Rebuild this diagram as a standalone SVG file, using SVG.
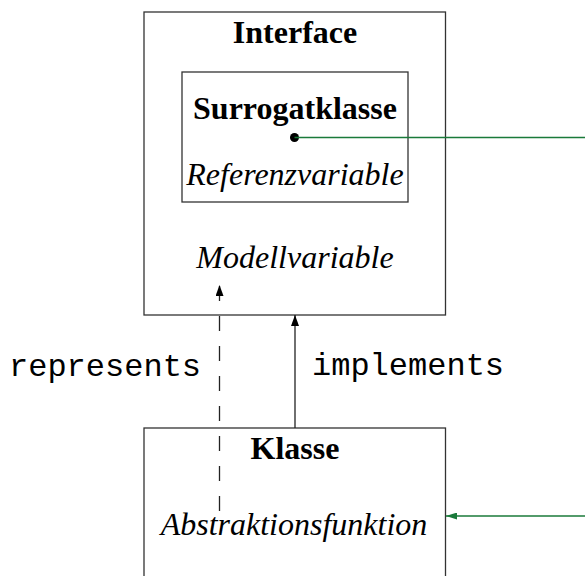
<svg xmlns="http://www.w3.org/2000/svg" width="585" height="576" viewBox="0 0 585 576">
<defs>
<style>
.box{fill:none;stroke:#333;stroke-width:1.3}
.b{font-family:"Liberation Serif",serif;font-weight:bold;font-size:32px;text-anchor:middle;fill:#000}
.i{font-family:"Liberation Serif",serif;font-style:italic;font-size:32px;text-anchor:middle;fill:#000}
.m{font-family:"Liberation Mono",monospace;font-size:32px;fill:#000}
.blk{stroke:#222;stroke-width:1.3;fill:none}
.grn{stroke:#1a7a3a;stroke-width:1.3;fill:none}
</style>
<marker id="ah" markerWidth="11" markerHeight="8" refX="11" refY="4" orient="auto" markerUnits="userSpaceOnUse"><path d="M0,0 L11,4 L0,8 Z" fill="#000"/></marker>
<marker id="ag" markerWidth="11" markerHeight="7" refX="11" refY="3.5" orient="auto" markerUnits="userSpaceOnUse"><path d="M0,0 L11,3.5 L0,7 Z" fill="#1a7a3a"/></marker>
</defs>
<g id="interface">
<rect class="box" x="144" y="12" width="301.5" height="303"/>
<text class="b" x="295" y="43">Interface</text>
<text class="i" x="295" y="268">Modellvariable</text>
</g>
<g id="surrogatklasse">
<rect class="box" x="182" y="72" width="226" height="130"/>
<text class="b" x="295" y="119">Surrogatklasse</text>
<text class="i" x="295" y="185">Referenzvariable</text>
</g>
<g id="klasse">
<rect class="box" x="144" y="428" width="301.5" height="160"/>
<text class="b" x="295" y="459">Klasse</text>
<text class="i" x="294" y="535">Abstraktionsfunktion</text>
</g>
<g id="connectors">
<line class="blk" x1="219.5" y1="511" x2="219.5" y2="285" stroke-dasharray="15,15" marker-end="url(#ah)"/>
<line class="blk" x1="295" y1="428" x2="295" y2="315" marker-end="url(#ah)"/>
<circle cx="294.5" cy="137.5" r="4.5" fill="#000"/>
<line class="grn" x1="294.5" y1="137.5" x2="585" y2="137.5"/>
<line class="grn" x1="585" y1="516" x2="446" y2="516" marker-end="url(#ag)"/>
<text class="m" x="9" y="376">represents</text>
<text class="m" x="312" y="375">implements</text>
</g>
</svg>
